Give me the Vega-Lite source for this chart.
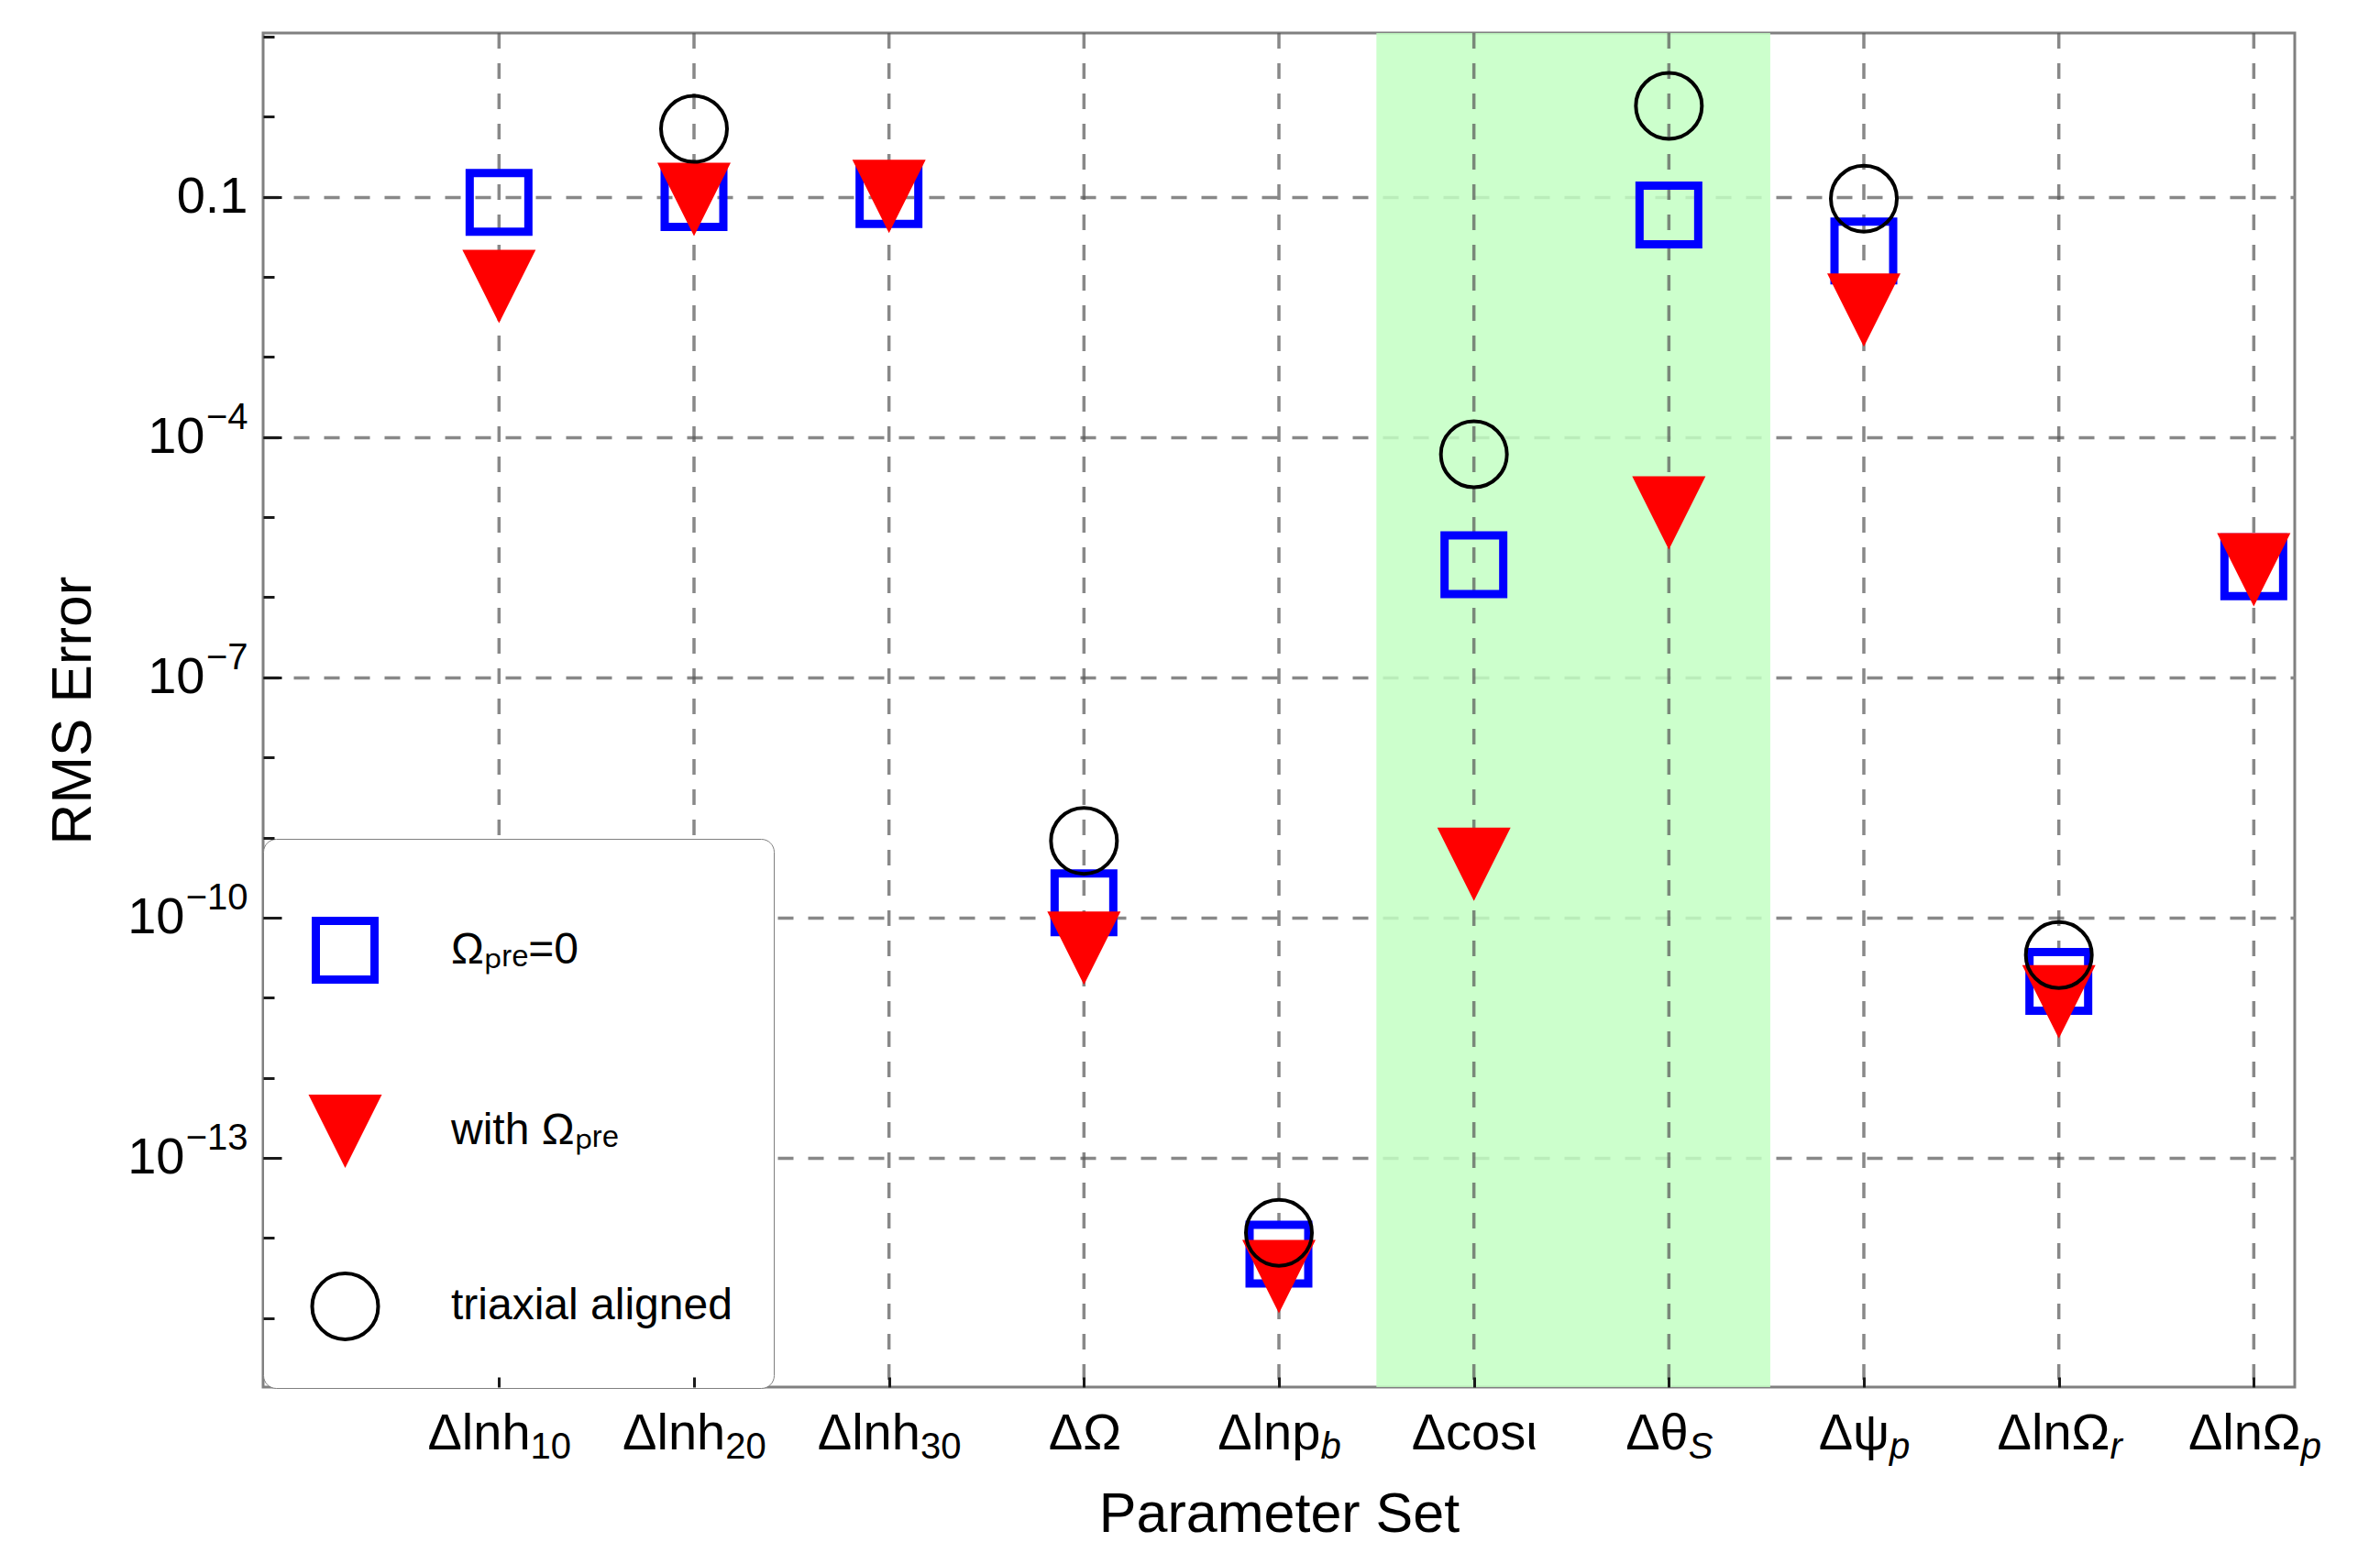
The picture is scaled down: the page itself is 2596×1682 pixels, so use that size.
{
  "$schema": "https://vega.github.io/schema/vega-lite/v6.json",
  "width": 2216,
  "height": 1477,
  "autosize": {"type": "none"},
  "padding": {"left": 287, "top": 36, "right": 93, "bottom": 169},
  "background": "white",
  "config": {
    "view": {"stroke": "#808080", "strokeWidth": 3},
    "font": "Liberation Sans",
    "axis": {"labelFont": "Liberation Sans", "titleFont": "Liberation Sans", "labelColor": "black", "titleColor": "black", "titleFontWeight": "normal", "labelFontWeight": "normal", "labelOverlap": false, "labelBound": false, "labelFlush": false, "domain": false}
  },
  "datasets": {
    "band": [{"from": 5.5, "to": 7.52}],
    "cats": [
      {"idx": 1, "param": "Δlnh10"}, {"idx": 2, "param": "Δlnh20"}, {"idx": 3, "param": "Δlnh30"},
      {"idx": 4, "param": "ΔΩ"}, {"idx": 5, "param": "Δlnp_b"}, {"idx": 6, "param": "Δcosι"},
      {"idx": 7, "param": "Δθ_S"}, {"idx": 8, "param": "Δψ_p"}, {"idx": 9, "param": "ΔlnΩ_r"}, {"idx": 10, "param": "ΔlnΩ_p"}
    ],
    "pts": [
      {"param": "Δlnh10", "idx": 1, "series": "Ωₚᵣₑ=0", "rms": 0.0853},
      {"param": "Δlnh20", "idx": 2, "series": "Ωₚᵣₑ=0", "rms": 0.098},
      {"param": "Δlnh30", "idx": 3, "series": "Ωₚᵣₑ=0", "rms": 0.107},
      {"param": "ΔΩ", "idx": 4, "series": "Ωₚᵣₑ=0", "rms": 1.53e-10},
      {"param": "Δlnp_b", "idx": 5, "series": "Ωₚᵣₑ=0", "rms": 6.27e-15},
      {"param": "Δcosι", "idx": 6, "series": "Ωₚᵣₑ=0", "rms": 2.55e-6},
      {"param": "Δθ_S", "idx": 7, "series": "Ωₚᵣₑ=0", "rms": 0.0595},
      {"param": "Δψ_p", "idx": 8, "series": "Ωₚᵣₑ=0", "rms": 0.0211},
      {"param": "ΔlnΩ_r", "idx": 9, "series": "Ωₚᵣₑ=0", "rms": 1.6e-11},
      {"param": "ΔlnΩ_p", "idx": 10, "series": "Ωₚᵣₑ=0", "rms": 2.4e-6},
      {"param": "Δlnh10", "idx": 1, "series": "with Ωₚᵣₑ", "rms": 0.0076},
      {"param": "Δlnh20", "idx": 2, "series": "with Ωₚᵣₑ", "rms": 0.093},
      {"param": "Δlnh30", "idx": 3, "series": "with Ωₚᵣₑ", "rms": 0.101},
      {"param": "ΔΩ", "idx": 4, "series": "with Ωₚᵣₑ", "rms": 4.15e-11},
      {"param": "Δlnp_b", "idx": 5, "series": "with Ωₚᵣₑ", "rms": 3.28e-15},
      {"param": "Δcosι", "idx": 6, "series": "with Ωₚᵣₑ", "rms": 4.63e-10},
      {"param": "Δθ_S", "idx": 7, "series": "with Ωₚᵣₑ", "rms": 1.13e-5},
      {"param": "Δψ_p", "idx": 8, "series": "with Ωₚᵣₑ", "rms": 0.00386},
      {"param": "ΔlnΩ_r", "idx": 9, "series": "with Ωₚᵣₑ", "rms": 8.9e-12},
      {"param": "ΔlnΩ_p", "idx": 10, "series": "with Ωₚᵣₑ", "rms": 2.2e-6},
      {"param": "Δlnh20", "idx": 2, "series": "triaxial aligned", "rms": 0.706},
      {"param": "ΔΩ", "idx": 4, "series": "triaxial aligned", "rms": 9.08e-10},
      {"param": "Δlnp_b", "idx": 5, "series": "triaxial aligned", "rms": 1.16e-14},
      {"param": "Δcosι", "idx": 6, "series": "triaxial aligned", "rms": 6.1e-5},
      {"param": "Δθ_S", "idx": 7, "series": "triaxial aligned", "rms": 1.37},
      {"param": "Δψ_p", "idx": 8, "series": "triaxial aligned", "rms": 0.095},
      {"param": "ΔlnΩ_r", "idx": 9, "series": "triaxial aligned", "rms": 3.4e-11}
    ]
  },
  "layer": [
    {
      "data": {"name": "band"},
      "mark": {"type": "rect", "fill": "#c3ffc3", "opacity": 0.85},
      "encoding": {
        "x": {"field": "from", "type": "quantitative", "scale": {"domain": [-0.21, 10.21], "nice": false, "zero": false},
          "axis": {"orient": "bottom", "values": [1,2,3,4,5,6,7,8,9,10], "labels": false, "ticks": true, "tickSize": -11, "tickWidth": 3, "tickColor": "#1a1a1a", "grid": false, "domain": false, "title": null, "zindex": 2}},
        "x2": {"field": "to"},
        "y": {"datum": 1.371e-16, "type": "quantitative", "scale": {"type": "log", "domain": [1.371e-16, 11.12], "nice": false},
          "axis": {"orient": "left", "values": [1e-4, 1e-7, 1e-10, 1e-13], "ticks": false, "grid": false, "domain": false, "title": null,
            "labelExpr": "datum.value > 1e-5 ? '−4' : (datum.value > 1e-8 ? '−7' : (datum.value > 1e-11 ? '−10' : '−13'))",
            "labelFontSize": 40, "labelAlign": "right", "labelBaseline": "middle", "labelPadding": 17, "labelOffset": -21}},
        "y2": {"datum": 11.12}
      }
    },
    {
      "data": {"name": "cats"},
      "mark": {"type": "rule", "stroke": "#555555", "strokeWidth": 3.5, "opacity": 0.7, "strokeDash": [17, 16]},
      "encoding": {
        "x": {"field": "idx", "type": "quantitative", "scale": {"domain": [-0.21, 10.21], "nice": false, "zero": false},
          "axis": {"orient": "bottom", "values": [1,2,3,4,5,6,7,8,9,10], "ticks": false, "grid": false, "domain": false,
            "labelExpr": "['', 'Δlnh', 'Δlnh', 'Δlnh', 'ΔΩ', 'Δlnp', 'Δcosι', 'Δθ', 'Δψ', 'ΔlnΩ', 'ΔlnΩ'][datum.value]",
            "labelFontSize": 56, "labelAlign": "right", "labelBaseline": "alphabetic", "labelPadding": 67,
            "labelOffset": {"condition": [{"test": "datum.value <= 3", "value": 33.75}, {"test": "datum.value == 4", "value": 40.2}, {"test": "datum.value == 5", "value": 44.9}, {"test": "datum.value == 6", "value": 68.5}, {"test": "datum.value == 7", "value": 20.9}, {"test": "datum.value == 8", "value": 27.5}, {"test": "datum.value == 9", "value": 55.3}], "value": 50.9},
            "title": "Parameter Set", "titleFontSize": 61, "titleX": 1108, "titleY": 157, "titleBaseline": "alphabetic", "titleAlign": "center"}}
      }
    },
    {
      "data": {"name": "pts"},
      "transform": [{"filter": {"field": "series", "equal": "Ωₚᵣₑ=0"}}],
      "mark": {"type": "point", "size": 6400, "opacity": 1},
      "encoding": {
        "x": {"field": "idx", "type": "quantitative", "scale": {"domain": [-0.21, 10.21], "nice": false, "zero": false},
          "axis": {"orient": "bottom", "values": [1,2,3,5,7,8,9,10], "ticks": false, "grid": false, "domain": false, "title": null,
            "labelExpr": "['', '10', '20', '30', '', 'b', '', 'S', 'p', 'r', 'p'][datum.value]",
            "labelFontSize": 40, "labelAlign": "left", "labelBaseline": "alphabetic", "labelPadding": 77,
            "labelOffset": {"condition": [{"test": "datum.value <= 3", "value": 33.75}, {"test": "datum.value == 4", "value": 40.2}, {"test": "datum.value == 5", "value": 44.9}, {"test": "datum.value == 6", "value": 68.5}, {"test": "datum.value == 7", "value": 20.9}, {"test": "datum.value == 8", "value": 27.5}, {"test": "datum.value == 9", "value": 55.3}], "value": 50.9},
            "labelFontStyle": {"condition": {"test": "datum.value >= 5", "value": "italic"}, "value": "normal"}}},
        "y": {"field": "rms", "type": "quantitative", "scale": {"type": "log", "domain": [1.371e-16, 11.12], "nice": false},
          "axis": {"orient": "left", "values": [0.1, 1e-4, 1e-7, 1e-10, 1e-13], "grid": true, "gridColor": "#888888", "gridWidth": 3.5, "gridDash": [17, 16], "ticks": false, "domain": false,
            "labelExpr": "datum.value > 0.01 ? '0.1' : '10'", "labelFontSize": 56, "labelAlign": "right", "labelBaseline": "middle",
            "labelPadding": {"condition": [{"test": "datum.value < 1e-8", "value": 86}, {"test": "datum.value < 0.01", "value": 64}], "value": 17},
            "title": "RMS Error", "titleFontSize": 62, "titleX": -208, "titleY": 738.5, "titleAngle": -90, "titleBaseline": "middle", "titleAlign": "center", "zindex": 0}},
        "shape": {"field": "series", "type": "nominal",
          "scale": {"domain": ["Ωₚᵣₑ=0", "with Ωₚᵣₑ", "triaxial aligned"], "range": ["M-0.8,-0.8L0.8,-0.8L0.8,0.8L-0.8,0.8Z", "M-1,-1L1,-1L0,1Z", "M0.9,0A0.9,0.9,0,1,1,-0.9,0A0.9,0.9,0,1,1,0.9,0Z"]},
          "legend": {"title": " ", "titleFontSize": 26, "titlePadding": 6, "orient": "none", "legendX": 0, "legendY": 879, "padding": 45, "rowPadding": 107, "labelOffset": 71, "labelFontSize": 48, "labelFont": "Liberation Sans", "labelColor": "black", "labelLimit": 0, "symbolSize": 6400, "fillColor": "white", "strokeColor": "#808080", "cornerRadius": 14, "zindex": 1}},
        "fill": {"field": "series", "type": "nominal",
          "scale": {"domain": ["Ωₚᵣₑ=0", "with Ωₚᵣₑ", "triaxial aligned"], "range": ["transparent", "#ff0000", "transparent"]},
          "legend": {"title": " ", "titleFontSize": 26, "titlePadding": 6, "orient": "none", "legendX": 0, "legendY": 879, "padding": 45, "rowPadding": 107, "labelOffset": 71, "labelFontSize": 48, "labelFont": "Liberation Sans", "labelColor": "black", "labelLimit": 0, "symbolSize": 6400, "fillColor": "white", "strokeColor": "#808080", "cornerRadius": 14, "zindex": 1}},
        "stroke": {"field": "series", "type": "nominal",
          "scale": {"domain": ["Ωₚᵣₑ=0", "with Ωₚᵣₑ", "triaxial aligned"], "range": ["#0000ff", "#ff0000", "#000000"]},
          "legend": {"title": " ", "titleFontSize": 26, "titlePadding": 6, "orient": "none", "legendX": 0, "legendY": 879, "padding": 45, "rowPadding": 107, "labelOffset": 71, "labelFontSize": 48, "labelFont": "Liberation Sans", "labelColor": "black", "labelLimit": 0, "symbolSize": 6400, "fillColor": "white", "strokeColor": "#808080", "cornerRadius": 14, "zindex": 1}},
        "strokeWidth": {"field": "series", "type": "nominal",
          "scale": {"type": "ordinal", "domain": ["Ωₚᵣₑ=0", "with Ωₚᵣₑ", "triaxial aligned"], "range": [9, 0, 4]},
          "legend": {"title": " ", "titleFontSize": 26, "titlePadding": 6, "orient": "none", "legendX": 0, "legendY": 879, "padding": 45, "rowPadding": 107, "labelOffset": 71, "labelFontSize": 48, "labelFont": "Liberation Sans", "labelColor": "black", "labelLimit": 0, "symbolSize": 6400, "fillColor": "white", "strokeColor": "#808080", "cornerRadius": 14, "zindex": 1}}
      }
    },
    {
      "data": {"name": "pts"},
      "transform": [{"filter": {"field": "series", "equal": "with Ωₚᵣₑ"}}],
      "mark": {"type": "point", "size": 6400, "opacity": 1},
      "encoding": {
        "x": {"field": "idx", "type": "quantitative", "scale": {"domain": [-0.21, 10.21], "nice": false, "zero": false}, "axis": null},
        "y": {"field": "rms", "type": "quantitative", "scale": {"type": "log", "domain": [1.371e-16, 11.12], "nice": false},
          "axis": {"orient": "left", "values": [0.1, 1e-4, 1e-7, 1e-10, 1e-13], "labels": false, "ticks": true, "tickSize": -20, "tickWidth": 3, "tickColor": "#1a1a1a", "grid": false, "domain": false, "title": null, "zindex": 2}},
        "shape": {"field": "series", "type": "nominal", "scale": {"domain": ["Ωₚᵣₑ=0", "with Ωₚᵣₑ", "triaxial aligned"], "range": ["M-0.8,-0.8L0.8,-0.8L0.8,0.8L-0.8,0.8Z", "M-1,-1L1,-1L0,1Z", "M0.9,0A0.9,0.9,0,1,1,-0.9,0A0.9,0.9,0,1,1,0.9,0Z"]}},
        "fill": {"field": "series", "type": "nominal", "scale": {"domain": ["Ωₚᵣₑ=0", "with Ωₚᵣₑ", "triaxial aligned"], "range": ["transparent", "#ff0000", "transparent"]}},
        "stroke": {"field": "series", "type": "nominal", "scale": {"domain": ["Ωₚᵣₑ=0", "with Ωₚᵣₑ", "triaxial aligned"], "range": ["#0000ff", "#ff0000", "#000000"]}},
        "strokeWidth": {"field": "series", "type": "nominal", "scale": {"type": "ordinal", "domain": ["Ωₚᵣₑ=0", "with Ωₚᵣₑ", "triaxial aligned"], "range": [9, 0, 4]}}
      }
    },
    {
      "data": {"name": "pts"},
      "transform": [{"filter": {"field": "series", "equal": "triaxial aligned"}}],
      "mark": {"type": "point", "size": 6400, "opacity": 1},
      "encoding": {
        "x": {"field": "idx", "type": "quantitative", "scale": {"domain": [-0.21, 10.21], "nice": false, "zero": false}, "axis": null},
        "y": {"field": "rms", "type": "quantitative", "scale": {"type": "log", "domain": [1.371e-16, 11.12], "nice": false},
          "axis": {"orient": "left", "values": [10, 1, 0.1, 0.01, 0.001, 1e-4, 1e-5, 1e-6, 1e-7, 1e-8, 1e-9, 1e-10, 1e-11, 1e-12, 1e-13, 1e-14, 1e-15], "labels": false, "ticks": true, "tickSize": -12, "tickWidth": 3, "tickColor": "#1a1a1a", "grid": false, "domain": false, "title": null, "zindex": 2}},
        "shape": {"field": "series", "type": "nominal", "scale": {"domain": ["Ωₚᵣₑ=0", "with Ωₚᵣₑ", "triaxial aligned"], "range": ["M-0.8,-0.8L0.8,-0.8L0.8,0.8L-0.8,0.8Z", "M-1,-1L1,-1L0,1Z", "M0.9,0A0.9,0.9,0,1,1,-0.9,0A0.9,0.9,0,1,1,0.9,0Z"]}},
        "fill": {"field": "series", "type": "nominal", "scale": {"domain": ["Ωₚᵣₑ=0", "with Ωₚᵣₑ", "triaxial aligned"], "range": ["transparent", "#ff0000", "transparent"]}},
        "stroke": {"field": "series", "type": "nominal", "scale": {"domain": ["Ωₚᵣₑ=0", "with Ωₚᵣₑ", "triaxial aligned"], "range": ["#0000ff", "#ff0000", "#000000"]}},
        "strokeWidth": {"field": "series", "type": "nominal", "scale": {"type": "ordinal", "domain": ["Ωₚᵣₑ=0", "with Ωₚᵣₑ", "triaxial aligned"], "range": [9, 0, 4]}}
      }
    }
  ],
  "resolve": {"axis": {"x": "independent", "y": "independent"}}
}
